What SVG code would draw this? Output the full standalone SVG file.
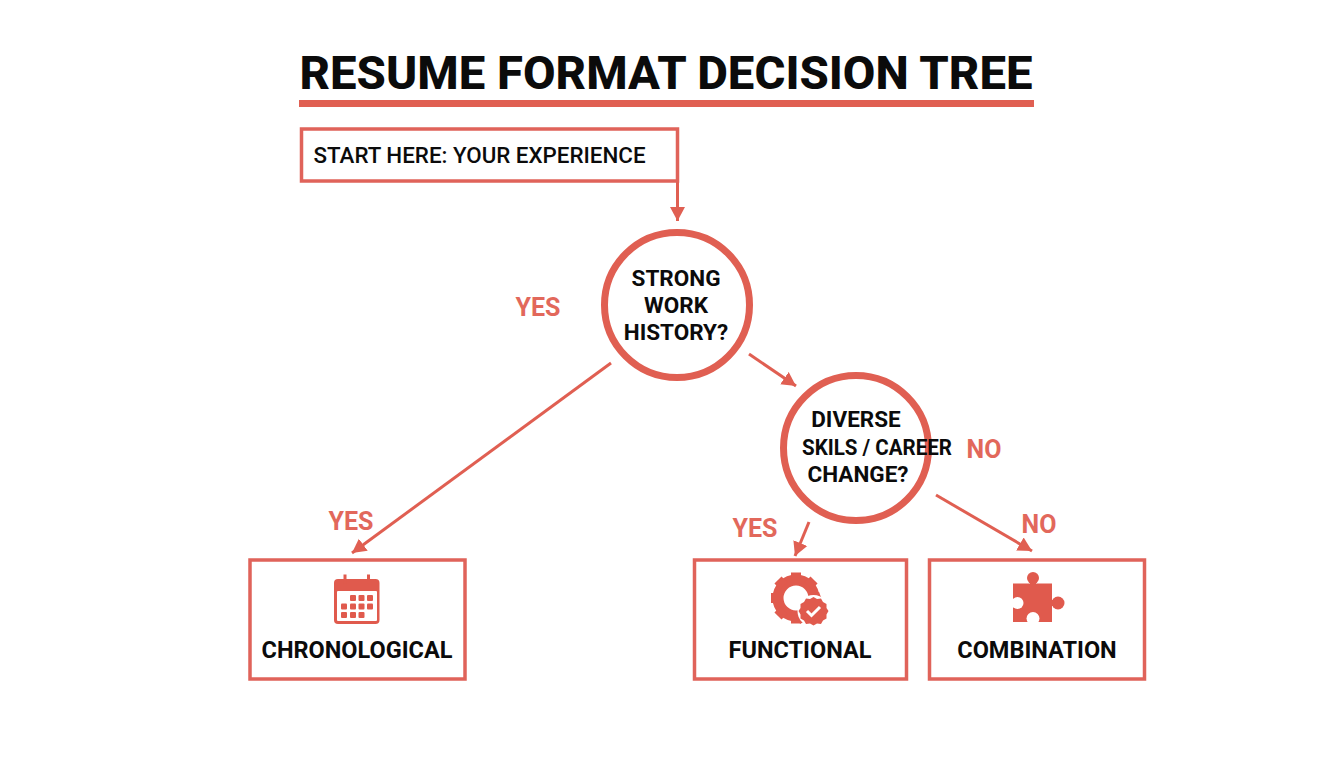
<svg xmlns="http://www.w3.org/2000/svg" width="1344" height="768" viewBox="0 0 1344 768">
<style>
text{font-family:Roboto,"Liberation Sans",sans-serif;font-weight:700;fill:#0b0b0b;text-anchor:middle}
.box{fill:#fff;stroke:#e0635a;stroke-width:3.5}
.ring{fill:#fff;stroke:#e05f52;stroke-width:7}
.c{fill:none;stroke:#e05f52;stroke-width:3}
.lab{fill:#e2685b;font-size:25px}
.n{font-size:22.5px}
.t{font-size:23.5px}
.i{fill:#e05a4d}
</style>
<defs><marker id="a" markerUnits="userSpaceOnUse" markerWidth="16" markerHeight="16" refX="14" refY="8" orient="auto"><path d="M0 0.500L14 8L0 15.500z" fill="#e05f52"/></marker></defs>
<rect width="1344" height="768" fill="#fff"/>
<g id="title"><text x="666" y="88.500" font-size="46.500" style="font-weight:800" textLength="733" lengthAdjust="spacingAndGlyphs">RESUME FORMAT DECISION TREE</text><rect x="299" y="100" width="735" height="7" fill="#e05f52"/></g>
<g id="connectors">
<path class="c" d="M677.500 181V221" marker-end="url(#a)"/>
<path class="c" d="M611 363L352 553" marker-end="url(#a)"/>
<path class="c" d="M749 354L796 386" marker-end="url(#a)"/>
<path class="c" d="M809 522L795 556" marker-end="url(#a)"/>
<path class="c" d="M936 495L1032 551" marker-end="url(#a)"/>
</g>
<g id="start"><rect class="box" x="301.500" y="129" width="376" height="52"/><text x="479.500" y="163" font-size="22" style="font-weight:500" textLength="332" lengthAdjust="spacingAndGlyphs">START HERE: YOUR EXPERIENCE</text></g>
<g id="q1"><circle class="ring" cx="677" cy="305" r="72.500"/><text class="n" x="676" y="286">STRONG</text><text class="n" x="676" y="313">WORK</text><text class="n" x="676" y="340">HISTORY?</text></g>
<g id="q2"><circle class="ring" cx="856" cy="448" r="72.500"/><text class="n" x="856" y="427">DIVERSE</text><text class="n" x="877" y="455" textLength="150" lengthAdjust="spacingAndGlyphs">SKILS / CAREER</text><text class="n" x="858" y="482">CHANGE?</text></g>
<g id="labels">
<text class="lab" x="538" y="316">YES</text><text class="lab" x="984" y="458">NO</text><text class="lab" x="351" y="530">YES</text><text class="lab" x="755" y="537">YES</text><text class="lab" x="1039" y="533">NO</text>
</g>
<g id="chronological"><rect class="box" x="250" y="560" width="215" height="119"/>
<rect class="i" x="334" y="579" width="45.500" height="45" rx="4"/><rect x="337" y="591" width="40" height="30" rx="1" fill="#fff"/>
<rect x="343.500" y="574.500" width="3" height="9" fill="#e05a4d"/><rect x="367" y="574.500" width="3" height="9" fill="#e05a4d"/>
<g class="i"><rect x="350" y="595" width="6" height="6" rx="1"/><rect x="358.500" y="595" width="6" height="6" rx="1"/><rect x="367" y="595" width="6" height="6" rx="1"/><rect x="341" y="603.500" width="6" height="6" rx="1"/><rect x="350" y="603.500" width="6" height="6" rx="1"/><rect x="358.500" y="603.500" width="6" height="6" rx="1"/><rect x="367" y="603.500" width="6" height="6" rx="1"/><rect x="341" y="612" width="6" height="6" rx="1"/><rect x="350" y="612" width="6" height="6" rx="1"/><rect x="358.500" y="612" width="6" height="6" rx="1"/></g>
<text class="t" x="357" y="657.500">CHRONOLOGICAL</text></g>
<g id="functional"><rect class="box" x="694.500" y="560" width="212" height="119"/>
<circle cx="796" cy="598" r="18" fill="none" stroke="#e05a4d" stroke-width="11"/>
<g class="i"><rect x="791" y="572.500" width="10" height="8"/><rect x="791" y="615.500" width="10" height="8"/><rect x="771" y="593" width="8" height="10"/><rect x="813" y="593" width="8" height="10" transform="rotate(-20 817 598)"/><rect x="791" y="572.500" width="10" height="8" transform="rotate(45 796 598)"/><rect x="791" y="572.500" width="10" height="8" transform="rotate(-45 796 598)"/><rect x="791" y="572.500" width="10" height="8" transform="rotate(-135 796 598)"/><rect x="791" y="572.500" width="10" height="8" transform="rotate(160 796 598)"/></g>
<circle cx="813.500" cy="611" r="16" fill="#fff"/>
<path class="i" d="M813.500 597l3.500 2 4-.5 2 3.500 3.500 2 0 4 2 3-2 3.500 0 4-3.500 2-2 3.500-4-.5-3.500 2-3.500-2-4 .5-2-3.500-3.500-2 0-4-2-3.500 2-3 0-4 3.500-2 2-3.500 4 .5z"/>
<path d="M807 611l4.500 4.500 8.500-8.500" fill="none" stroke="#fff" stroke-width="3"/>
<text class="t" x="800" y="657.500">FUNCTIONAL</text></g>
<g id="combination"><rect class="box" x="929.500" y="560" width="215" height="119"/>
<g class="i"><rect x="1013" y="583.500" width="39" height="38.500"/><circle cx="1033" cy="578" r="6"/><rect x="1030" y="580" width="6" height="5"/><circle cx="1058" cy="603" r="6.500"/><rect x="1050" y="600" width="5" height="6"/></g>
<circle cx="1017.500" cy="603" r="6" fill="#fff"/><rect x="1011" y="600.500" width="4" height="5" fill="#fff"/><circle cx="1033" cy="618.500" r="6.500" fill="#fff"/><rect x="1030.500" y="620" width="5" height="3" fill="#fff"/>
<text class="t" x="1037" y="657.500">COMBINATION</text></g>
</svg>
